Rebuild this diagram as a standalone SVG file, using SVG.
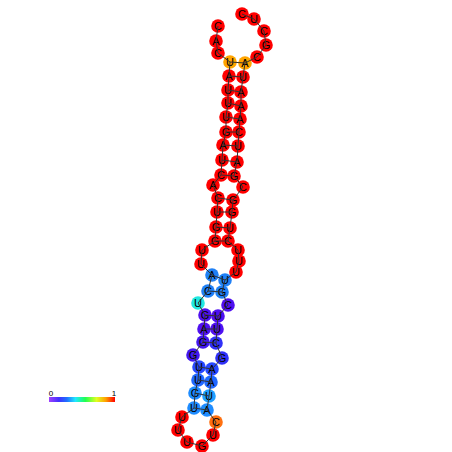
<svg xmlns="http://www.w3.org/2000/svg" width="452" height="452" viewBox="0 0 452 452">
<defs>
<linearGradient id="scale" x1="0" y1="0" x2="1" y2="0">
<stop offset="0" stop-color="#a040ff"/>
<stop offset="0.15" stop-color="#4030ff"/>
<stop offset="0.27" stop-color="#2070ff"/>
<stop offset="0.4" stop-color="#20e8ff"/>
<stop offset="0.55" stop-color="#20ff50"/>
<stop offset="0.72" stop-color="#e0ff20"/>
<stop offset="0.86" stop-color="#ffa000"/>
<stop offset="1" stop-color="#ff0000"/>
</linearGradient>
</defs>
<style>
circle{stroke:none}
text{font-family:"Liberation Sans",Arial,sans-serif;font-size:11px;text-anchor:middle;fill:#000}
.r circle{fill:#ff0000}
.o circle{fill:#ffa500}
.o2 circle{fill:#ff7010}
.cy circle{fill:#22e8e0}
.b1 circle{fill:#2080f5}
.b2 circle{fill:#5010f0}
.b3 circle{fill:#4418f0}
.b4 circle{fill:#3030f8}
.b5 circle{fill:#2848ff}
.b6 circle{fill:#2068ff}
.b7 circle{fill:#1e8cff}
.b8 circle{fill:#20a0ff}
#connectors line{stroke:#333;stroke-width:1}
.lbl{font-size:8px}
</style>
<g id="nodes">
<g id="n1" class="r"><circle cx="218" cy="26" r="6.8"/><text x="218" y="30">C</text></g>
<g id="n2" class="r"><circle cx="216" cy="41" r="6.8"/><text x="216" y="45">A</text></g>
<g id="n3" class="r"><circle cx="218" cy="53" r="6.8"/><text x="218" y="57">C</text></g>
<g id="n4" class="o"><circle cx="230" cy="62" r="6.8"/><text x="230" y="66">U</text></g>
<g id="n5" class="r"><circle cx="229" cy="76" r="6.8"/><text x="229" y="80">A</text></g>
<g id="n6" class="r"><circle cx="228" cy="90" r="6.8"/><text x="228" y="94">U</text></g>
<g id="n7" class="r"><circle cx="228" cy="103" r="6.8"/><text x="228" y="107">U</text></g>
<g id="n8" class="r"><circle cx="226" cy="117" r="6.8"/><text x="226" y="121">U</text></g>
<g id="n9" class="r"><circle cx="226" cy="132" r="6.8"/><text x="226" y="136">G</text></g>
<g id="n10" class="r"><circle cx="223" cy="145" r="6.8"/><text x="223" y="149">A</text></g>
<g id="n11" class="r"><circle cx="222" cy="160" r="6.8"/><text x="222" y="164">U</text></g>
<g id="n12" class="r"><circle cx="221" cy="175" r="6.8"/><text x="221" y="179">C</text></g>
<g id="n13" class="r"><circle cx="213" cy="185" r="6.8"/><text x="213" y="189">A</text></g>
<g id="n14" class="r"><circle cx="218" cy="198" r="6.8"/><text x="218" y="202">C</text></g>
<g id="n15" class="r"><circle cx="217" cy="212" r="6.8"/><text x="217" y="216">U</text></g>
<g id="n16" class="r"><circle cx="216" cy="227" r="6.8"/><text x="216" y="231">G</text></g>
<g id="n17" class="r"><circle cx="215" cy="241" r="6.8"/><text x="215" y="245">G</text></g>
<g id="n18" class="r"><circle cx="202" cy="250" r="6.8"/><text x="202" y="254">U</text></g>
<g id="n19" class="r"><circle cx="201" cy="264" r="6.8"/><text x="201" y="268">U</text></g>
<g id="n20" class="b1"><circle cx="212" cy="275" r="6.8"/><text x="212" y="279">A</text></g>
<g id="n21" class="b1"><circle cx="208" cy="291" r="6.8"/><text x="208" y="295">C</text></g>
<g id="n22" class="cy"><circle cx="198" cy="303" r="6.8"/><text x="198" y="307">U</text></g>
<g id="n23" class="b2"><circle cx="205" cy="315" r="6.8"/><text x="205" y="319">G</text></g>
<g id="n24" class="b2"><circle cx="204" cy="329" r="6.8"/><text x="204" y="333">A</text></g>
<g id="n25" class="b3"><circle cx="203" cy="342" r="6.8"/><text x="203" y="346">G</text></g>
<g id="n26" class="b3"><circle cx="193" cy="355" r="6.8"/><text x="193" y="359">G</text></g>
<g id="n27" class="b5"><circle cx="199" cy="367" r="6.8"/><text x="199" y="371">U</text></g>
<g id="n28" class="b6"><circle cx="198" cy="380" r="6.8"/><text x="198" y="384">U</text></g>
<g id="n29" class="b7"><circle cx="195" cy="393" r="6.8"/><text x="195" y="397">G</text></g>
<g id="n30" class="b7"><circle cx="194" cy="408" r="6.8"/><text x="194" y="412">U</text></g>
<g id="n31" class="r"><circle cx="182" cy="417" r="6.8"/><text x="182" y="421">U</text></g>
<g id="n32" class="r"><circle cx="178" cy="430" r="6.8"/><text x="178" y="434">U</text></g>
<g id="n33" class="r"><circle cx="187" cy="442" r="6.8"/><text x="187" y="446">U</text></g>
<g id="n34" class="r"><circle cx="202" cy="446" r="6.8"/><text x="202" y="450">G</text></g>
<g id="n35" class="r"><circle cx="213" cy="435" r="6.8"/><text x="213" y="439">U</text></g>
<g id="n36" class="o2"><circle cx="216" cy="422" r="6.8"/><text x="216" y="426">C</text></g>
<g id="n37" class="b7"><circle cx="207" cy="410" r="6.8"/><text x="207" y="414">A</text></g>
<g id="n38" class="b8"><circle cx="209" cy="396" r="6.8"/><text x="209" y="400">U</text></g>
<g id="n39" class="b6"><circle cx="211" cy="382" r="6.8"/><text x="211" y="386">A</text></g>
<g id="n40" class="b5"><circle cx="212" cy="369" r="6.8"/><text x="212" y="373">A</text></g>
<g id="n41" class="b4"><circle cx="222" cy="358" r="6.8"/><text x="222" y="362">G</text></g>
<g id="n42" class="b4"><circle cx="216" cy="343" r="6.8"/><text x="216" y="347">C</text></g>
<g id="n43" class="b2"><circle cx="217" cy="329" r="6.8"/><text x="217" y="333">U</text></g>
<g id="n44" class="b2"><circle cx="218" cy="316" r="6.8"/><text x="218" y="320">U</text></g>
<g id="n45" class="b2"><circle cx="228" cy="305" r="6.8"/><text x="228" y="309">C</text></g>
<g id="n46" class="b1"><circle cx="222" cy="292" r="6.8"/><text x="222" y="296">G</text></g>
<g id="n47" class="b1"><circle cx="225" cy="280" r="6.8"/><text x="225" y="284">U</text></g>
<g id="n48" class="r"><circle cx="236" cy="272" r="6.8"/><text x="236" y="276">U</text></g>
<g id="n49" class="r"><circle cx="239" cy="261" r="6.8"/><text x="239" y="265">U</text></g>
<g id="n50" class="r"><circle cx="238" cy="250" r="6.8"/><text x="238" y="254">U</text></g>
<g id="n51" class="r"><circle cx="228" cy="241" r="6.8"/><text x="228" y="245">C</text></g>
<g id="n52" class="r"><circle cx="230" cy="228" r="6.8"/><text x="230" y="232">U</text></g>
<g id="n53" class="r"><circle cx="232" cy="212" r="6.8"/><text x="232" y="216">G</text></g>
<g id="n54" class="r"><circle cx="233" cy="200" r="6.8"/><text x="233" y="204">G</text></g>
<g id="n55" class="r"><circle cx="243" cy="187" r="6.8"/><text x="243" y="191">C</text></g>
<g id="n56" class="r"><circle cx="234" cy="176" r="6.8"/><text x="234" y="180">G</text></g>
<g id="n57" class="r"><circle cx="237" cy="162" r="6.8"/><text x="237" y="166">A</text></g>
<g id="n58" class="r"><circle cx="238" cy="146" r="6.8"/><text x="238" y="150">U</text></g>
<g id="n59" class="r"><circle cx="239" cy="132" r="6.8"/><text x="239" y="136">C</text></g>
<g id="n60" class="r"><circle cx="240" cy="119" r="6.8"/><text x="240" y="123">A</text></g>
<g id="n61" class="r"><circle cx="241" cy="106" r="6.8"/><text x="241" y="110">A</text></g>
<g id="n62" class="r"><circle cx="241" cy="92" r="6.8"/><text x="241" y="96">A</text></g>
<g id="n63" class="r"><circle cx="243" cy="77" r="6.8"/><text x="243" y="81">U</text></g>
<g id="n64" class="o"><circle cx="245" cy="63" r="6.8"/><text x="245" y="67">A</text></g>
<g id="n65" class="r"><circle cx="257" cy="57" r="6.8"/><text x="257" y="61">C</text></g>
<g id="n66" class="r"><circle cx="266" cy="45" r="6.8"/><text x="266" y="49">G</text></g>
<g id="n67" class="r"><circle cx="264" cy="31" r="6.8"/><text x="264" y="35">C</text></g>
<g id="n68" class="r"><circle cx="254" cy="19" r="6.8"/><text x="254" y="23">U</text></g>
<g id="n69" class="r"><circle cx="242" cy="14" r="6.8"/><text x="242" y="18">C</text></g>
</g>
<g id="connectors">
<polyline fill="none" stroke="#333" stroke-width="1" points="218,26 216,41 218,53 230,62 229,76 228,90 228,103 226,117 226,132 223,145 222,160 221,175 213,185 218,198 217,212 216,227 215,241 202,250 201,264 212,275 208,291 198,303 205,315 204,329 203,342 193,355 199,367 198,380 195,393 194,408 182,417 178,430 187,442 202,446 213,435 216,422 207,410 209,396 211,382 212,369 222,358 216,343 217,329 218,316 228,305 222,292 225,280 236,272 239,261 238,250 228,241 230,228 232,212 233,200 243,187 234,176 237,162 238,146 239,132 240,119 241,106 241,92 243,77 245,63 257,57 266,45 264,31 254,19 242,14"/>
<line x1="230" y1="62" x2="245" y2="63"/>
<line x1="229" y1="76" x2="243" y2="77"/>
<line x1="228" y1="90" x2="241" y2="92"/>
<line x1="228" y1="103" x2="241" y2="106"/>
<line x1="226" y1="117" x2="240" y2="119"/>
<line x1="226" y1="132" x2="239" y2="132"/>
<line x1="223" y1="145" x2="238" y2="146"/>
<line x1="222" y1="160" x2="237" y2="162"/>
<line x1="221" y1="175" x2="234" y2="176"/>
<line x1="218" y1="198" x2="233" y2="200"/>
<line x1="217" y1="212" x2="232" y2="212"/>
<line x1="216" y1="227" x2="230" y2="228"/>
<line x1="215" y1="241" x2="228" y2="241"/>
<line x1="212" y1="275" x2="225" y2="280"/>
<line x1="208" y1="291" x2="222" y2="292"/>
<line x1="205" y1="315" x2="218" y2="316"/>
<line x1="204" y1="329" x2="217" y2="329"/>
<line x1="203" y1="342" x2="216" y2="343"/>
<line x1="199" y1="367" x2="212" y2="369"/>
<line x1="198" y1="380" x2="211" y2="382"/>
<line x1="195" y1="393" x2="209" y2="396"/>
<line x1="194" y1="408" x2="207" y2="410"/>
</g>
<g id="legend">
<rect x="49" y="397" width="66" height="5" fill="url(#scale)"/>
<text class="lbl" x="51" y="396">0</text>
<text class="lbl" x="114" y="396">1</text>
</g>
</svg>
